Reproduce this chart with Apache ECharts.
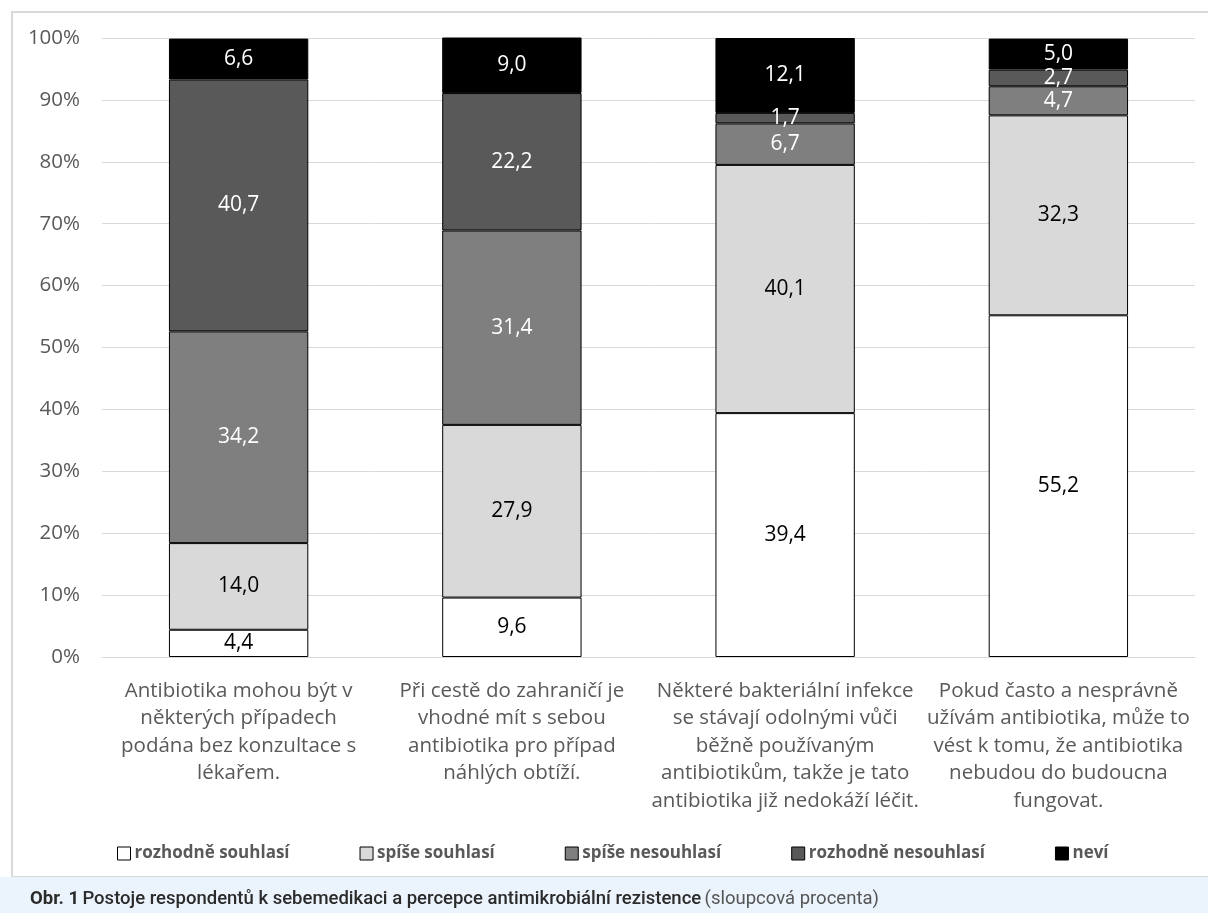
<!DOCTYPE html>
<html><head><meta charset="utf-8">
<script src="https://cdn.jsdelivr.net/npm/echarts@6/dist/echarts.min.js"></script>
<style>html,body{margin:0;padding:0;background:#fff}#c{width:1208px;height:913px}</style>
</head><body><div id="c"></div>
<script>
const categories = [
  "Antibiotika mohou být v\nněkterých případech\npodána bez konzultace s\nlékařem.",
  "Při cestě do zahraničí je\nvhodné mít s sebou\nantibiotika pro případ\nnáhlých obtíží.",
  "Některé bakteriální infekce\nse stávají odolnými vůči\nběžně používaným\nantibiotikům, takže je tato\nantibiotika již nedokáží léčit.",
  "Pokud často a nesprávně\nužívám antibiotika, může to\nvést k tomu, že antibiotika\nnebudou do budoucna\nfungovat."
];
const seriesNames = ["rozhodně souhlasí", "spíše souhlasí", "spíše nesouhlasí", "rozhodně nesouhlasí", "neví"];
const rozhodneSouhlasi = [4.4, 9.6, 39.4, 55.2];
const spiseSouhlasi = [14.0, 27.9, 40.1, 32.3];
const spiseNesouhlasi = [34.2, 31.4, 6.7, 4.7];
const rozhodneNesouhlasi = [40.7, 22.2, 1.7, 2.7];
const nevi = [6.6, 9.0, 12.1, 5.0];
const yTicks = [0, 10, 20, 30, 40, 50, 60, 70, 80, 90, 100];

const values = [rozhodneSouhlasi, spiseSouhlasi, spiseNesouhlasi, rozhodneNesouhlasi, nevi];
const fills = ["#ffffff", "#d9d9d9", "#7f7f7f", "#595959", "#000000"];
const labelColors = ["#000000", "#000000", "#ffffff", "#ffffff", "#ffffff"];
const FONT = "Open Sans";

const chart = echarts.init(document.getElementById('c'), null, {renderer: 'canvas'});
chart.setOption({
  animation: false,
  textStyle: {fontFamily: FONT},
  grid: {left: 102, right: 13, top: 38, bottom: 256, containLabel: false},
  legend: {
    bottom: 46, left: 112, itemGap: 70, itemWidth: 13, itemHeight: 13,
    icon: 'rect',
    data: seriesNames,
    textStyle: {fontFamily: FONT, fontSize: 17, fontWeight: 'bold', color: '#595959', padding: [0, 0, 0, -1]},
    itemStyle: {borderColor: '#000', borderWidth: 1}
  },
  xAxis: {
    type: 'category', data: categories,
    axisTick: {show: false},
    axisLine: {lineStyle: {color: '#d9d9d9', width: 1}},
    axisLabel: {color: '#595959', fontSize: 20.5, lineHeight: 27.6, margin: 20, interval: 0, fontFamily: FONT}
  },
  yAxis: {
    type: 'value', min: yTicks[0], max: yTicks[yTicks.length - 1], interval: 10,
    axisLine: {show: false}, axisTick: {show: false},
    splitLine: {lineStyle: {color: '#d9d9d9', width: 1}},
    axisLabel: {formatter: '{value}%', color: '#595959', fontSize: 20.5, margin: 22, fontFamily: FONT}
  },
  series: seriesNames.map((name, i) => ({
    name: name, type: 'bar', stack: 'total', barWidth: '51%',
    data: values[i],
    itemStyle: {color: fills[i], borderColor: '#000', borderWidth: 1},
    label: {
      show: true, position: 'inside', color: labelColors[i], fontSize: 21, fontFamily: FONT,
      formatter: p => p.value.toFixed(1).replace('.', ',')
    }
  })),
  graphic: [
    {type: 'rect', shape: {x: 12, y: 12, width: 1220, height: 865}, style: {fill: 'none', stroke: '#d9d9d9', lineWidth: 2}, z: -1, silent: true},
    {type: 'rect', shape: {x: 0, y: 877, width: 1208, height: 36}, style: {fill: '#ebf3fc'}, z: 10, silent: true},
    {type: 'text', left: 30, top: 890, z: 11, style: {
      text: '{a|Obr. 1} {b|Postoje respondentů k sebemedikaci a percepce antimikrobiální rezistence} {c|(sloupcová procenta)}',
      rich: {
        a: {fontFamily: 'Roboto', fontSize: 18.5, fontWeight: 'bold', fill: '#2b2b2b'},
        b: {fontFamily: 'Roboto', fontSize: 18.5, fontWeight: 500, fill: '#2b2b2b'},
        c: {fontFamily: 'Roboto', fontSize: 18.5, fontWeight: 'normal', fill: '#555'}
      }
    }}
  ]
});
</script></body></html>
